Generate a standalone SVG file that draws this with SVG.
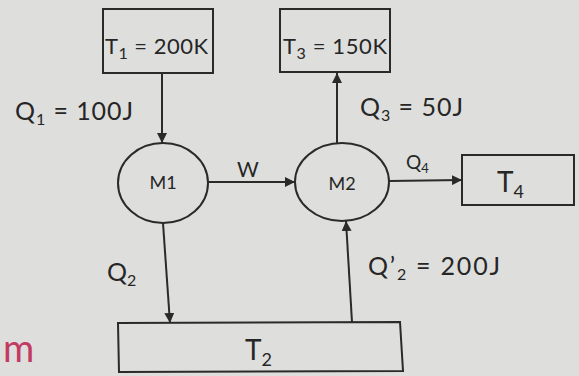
<svg xmlns="http://www.w3.org/2000/svg" width="579" height="376" viewBox="0 0 579 376">
<defs>
<marker id="ah" viewBox="0 0 10 10" refX="10" refY="5" markerWidth="10" markerHeight="10" markerUnits="userSpaceOnUse" orient="auto">
<path d="M0,0 L10,5 L0,10 Z" fill="#2a2a2a"/>
</marker>
</defs>
<style>
.box{fill:none;stroke:#2a2a2a;stroke-width:2}
.eng{fill:none;stroke:#2a2a2a;stroke-width:2}
.ln{stroke:#2a2a2a;stroke-width:2;fill:none;marker-end:url(#ah)}
text{font-family:Lato,"Open Sans","Liberation Sans",sans-serif;fill:#262626}
.lb{font-size:25px}
.bx{font-size:22px}
.sm{font-size:16px}
</style>
<rect width="579" height="376" fill="#dededc"/>
<g id="T1"><rect class="box" x="103" y="9" width="110" height="64"/><text class="bx" x="105" y="54" textLength="103" lengthAdjust="spacing">T<tspan class="sm" dy="5">1</tspan><tspan dy="-5"> = 200K</tspan></text></g>
<g id="T3"><rect class="box" x="280" y="9" width="110" height="63"/><text class="bx" x="283" y="54" textLength="104" lengthAdjust="spacing">T<tspan class="sm" dy="5">3</tspan><tspan dy="-5"> = 150K</tspan></text></g>
<g id="M1"><ellipse class="eng" cx="163" cy="183" rx="45" ry="40"/><text x="163" y="189" font-size="18" text-anchor="middle">M1</text></g>
<g id="M2"><ellipse class="eng" cx="342" cy="182" rx="47" ry="39"/><text x="342" y="190" font-size="18" text-anchor="middle">M2</text></g>
<g id="T4"><rect class="box" x="462" y="155" width="112" height="50"/><text x="497" y="192" font-size="28">T<tspan font-size="18" dy="6">4</tspan></text></g>
<g id="T2"><path class="box" d="M118,323 L400,322 L403,371 L119,372 Z"/><text x="245" y="360" font-size="28">T<tspan font-size="18" dy="6">2</tspan></text></g>
<g id="connectors">
<line class="ln" x1="162" y1="73" x2="162" y2="143"/>
<line class="ln" x1="208" y1="182" x2="295" y2="182"/>
<line class="ln" x1="337" y1="143" x2="337" y2="73"/>
<line class="ln" x1="389" y1="181" x2="462" y2="180"/>
<line class="ln" x1="163" y1="223" x2="170" y2="323"/>
<line class="ln" x1="352" y1="322" x2="346" y2="221"/>
</g>
<g id="labels">
<text class="lb" x="15" y="120" textLength="118" lengthAdjust="spacing">Q<tspan class="sm" dy="5">1</tspan><tspan dy="-5"> = 100J</tspan></text>
<text x="237" y="177" font-size="21">W</text>
<text class="lb" x="360" y="116" textLength="103" lengthAdjust="spacing">Q<tspan class="sm" dy="5">3</tspan><tspan dy="-5"> = 50J</tspan></text>
<text x="406" y="169" font-size="19">Q<tspan font-size="13" dy="4">4</tspan></text>
<text class="lb" x="107" y="281">Q<tspan class="sm" dy="5">2</tspan></text>
<text class="lb" x="368" y="275" textLength="132" lengthAdjust="spacing">Q’<tspan class="sm" dy="5">2</tspan><tspan dy="-5"> = 200J</tspan></text>
<text x="3" y="362" font-size="38" style="fill:#c23a62">m</text>
</g>
</svg>
